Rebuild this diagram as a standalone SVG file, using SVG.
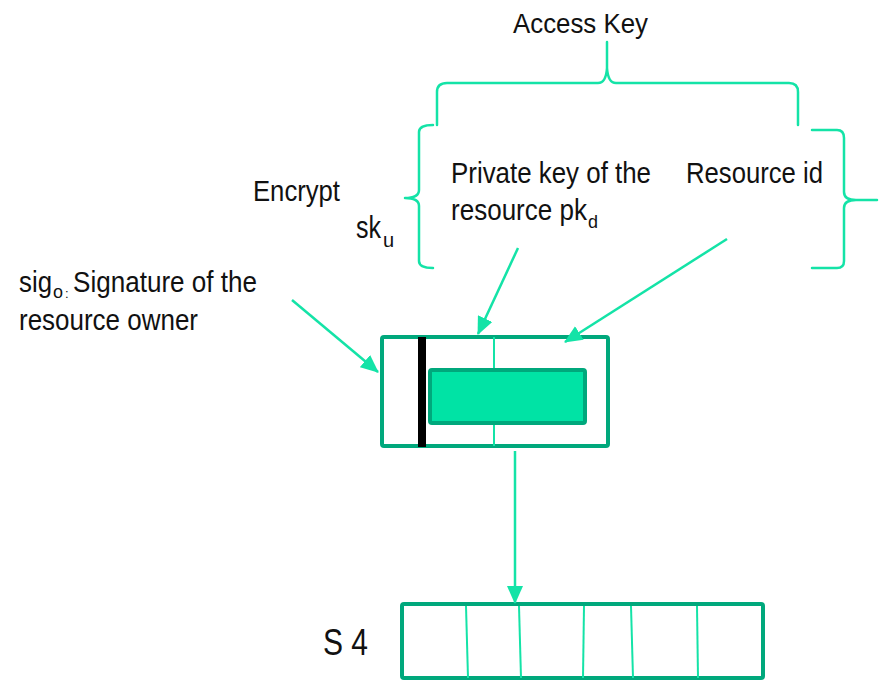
<svg xmlns="http://www.w3.org/2000/svg" width="882" height="680" viewBox="0 0 882 680">
  <style>
    text { font-family: "Liberation Sans", Arial, sans-serif; fill: #111111; }
    .t { font-size: 29px; }
    .brace { fill: none; stroke: #14E3A7; stroke-width: 2.5; stroke-linejoin: round; stroke-linecap: round; }
    .conn { fill: none; stroke: #14E3A7; stroke-width: 2.5; }
    .box { fill: #FFFFFF; stroke: #00A87C; stroke-width: 4; }
    .inner { fill: #00E3A5; stroke: #00A87C; stroke-width: 4; }
    .div { stroke: #14E3A7; stroke-width: 2; }
  </style>
  <defs>
    <marker id="arrow" markerUnits="userSpaceOnUse" markerWidth="18" markerHeight="16" viewBox="0 0 18 16" refX="17" refY="8" orient="auto">
      <path d="M0,0 L18,8 L0,16 Z" fill="#14E3A7"/>
    </marker>
  </defs>

  <g id="access-key-label">
    <text x="513" y="33" style="font-size:28px" textLength="135" lengthAdjust="spacingAndGlyphs">Access Key</text>
  </g>

  <g id="braces">
    <path class="brace" d="M437,125 V92 Q437,83 447,83 H598 Q606,83 607,68 V42 M607,68 Q608,83 616,83 H789 Q798,83 798,92 V125"/>
    <path class="brace" d="M433,125 Q419,125 419,132 V190 Q419,198 405,198 Q419,198 419,206 V261 Q419,268 433,268"/>
    <path class="brace" d="M812,130 H837 Q844,130 844,138 V192 Q844,200 856,200 H877 M856,200 Q844,200 844,208 V261 Q844,268 837,268 H812"/>
  </g>

  <g id="encrypt-label">
    <text class="t" x="253" y="201" textLength="87" lengthAdjust="spacingAndGlyphs">Encrypt</text>
  </g>

  <g id="sku-label">
    <text x="356" y="238" style="font-size:31px"><tspan textLength="25" lengthAdjust="spacingAndGlyphs">sk</tspan><tspan x="383" y="247" style="font-size:20px">u</tspan></text>
  </g>

  <g id="private-key-label">
    <text class="t" x="451" y="183" textLength="200" lengthAdjust="spacingAndGlyphs">Private key of the</text>
    <text class="t" x="451" y="220"><tspan textLength="136" lengthAdjust="spacingAndGlyphs">resource pk</tspan><tspan x="588" y="228" style="font-size:18px">d</tspan></text>
  </g>

  <g id="resource-id-label">
    <text class="t" x="686" y="183" textLength="137" lengthAdjust="spacingAndGlyphs">Resource id</text>
  </g>

  <g id="signature-label">
    <text class="t" x="19" y="292"><tspan textLength="33" lengthAdjust="spacingAndGlyphs">sig</tspan><tspan x="53" y="298" style="font-size:18px">o</tspan><tspan x="65" y="298" style="font-size:13px">:</tspan><tspan x="73" y="292" textLength="184" lengthAdjust="spacingAndGlyphs">Signature of the</tspan></text>
    <text class="t" x="19" y="330" textLength="179" lengthAdjust="spacingAndGlyphs">resource owner</text>
  </g>

  <g id="access-key-box">
    <rect class="box" x="382" y="337" width="226" height="109" rx="2"/>
    <line class="div" x1="494" y1="337" x2="494" y2="446"/>
    <rect class="inner" x="430" y="370" width="155" height="53" rx="2"/>
    <rect x="418" y="337" width="8" height="110" fill="#000000"/>
  </g>

  <g id="s4-box">
    <rect class="box" x="402" y="604" width="361" height="74" rx="2"/>
    <line class="div" x1="466" y1="606" x2="468" y2="678"/>
    <line class="div" x1="519" y1="606" x2="521" y2="678"/>
    <line class="div" x1="584" y1="606" x2="583" y2="678"/>
    <line class="div" x1="631" y1="606" x2="633" y2="678"/>
    <line class="div" x1="697" y1="606" x2="698" y2="678"/>
  </g>

  <g id="s4-label">
    <text x="323" y="655" style="font-size:36px" textLength="45" lengthAdjust="spacingAndGlyphs">S 4</text>
  </g>

  <g id="connectors">
    <line class="conn" x1="518" y1="248" x2="478" y2="334" marker-end="url(#arrow)"/>
    <line class="conn" x1="727" y1="239" x2="565" y2="342" marker-end="url(#arrow)"/>
    <line class="conn" x1="292" y1="300" x2="378" y2="372" marker-end="url(#arrow)"/>
    <line class="conn" x1="515" y1="451" x2="515" y2="603" marker-end="url(#arrow)"/>
  </g>
</svg>
